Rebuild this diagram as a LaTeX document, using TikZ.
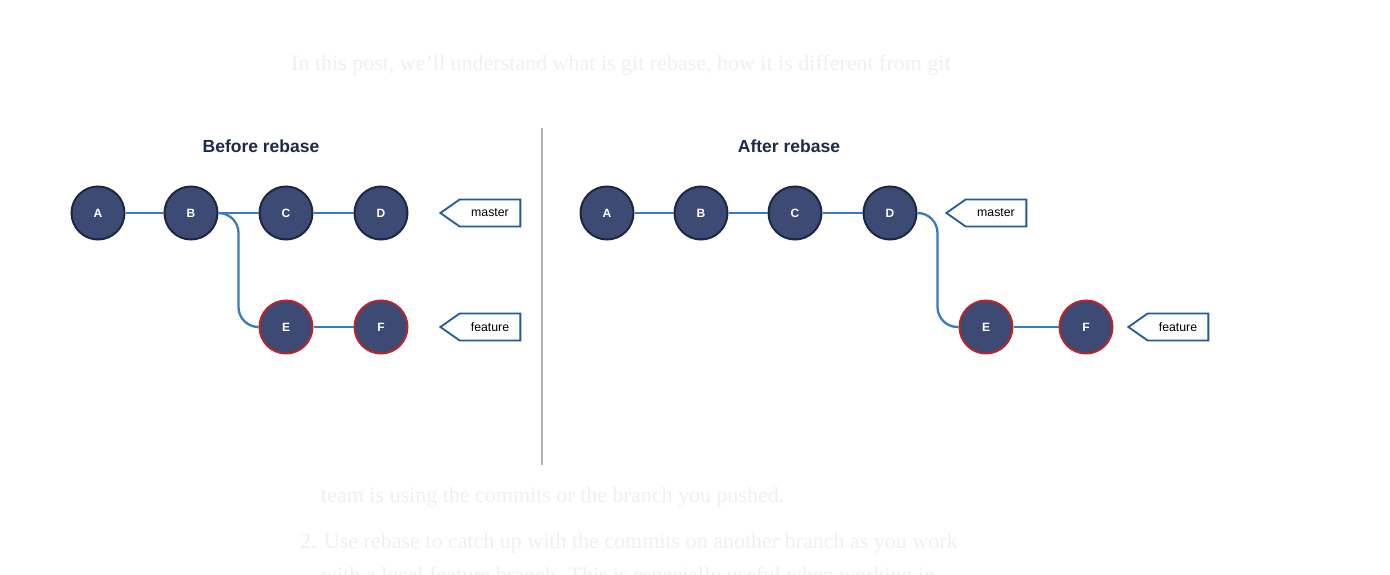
\documentclass[tikz,border=0pt]{standalone}
\usepackage{fontspec}
\setmainfont{Liberation Sans}
\newfontfamily\postfont{Liberation Serif}
\usepackage{tikz}
\usetikzlibrary{shapes.symbols}
\definecolor{commitfill}{HTML}{3D4A74}
\definecolor{commitline}{HTML}{1A2745}
\definecolor{movedline}{HTML}{B8262B}
\definecolor{linkblue}{HTML}{3A7BBF}
\definecolor{tagline}{HTML}{1F5C9C}
\definecolor{titlecol}{HTML}{1B2A48}

\begin{document}
\begin{tikzpicture}[x=1pt, y=-1pt,
    commit/.style={circle, draw=commitline, fill=commitfill, line width=2pt, minimum size=53pt, inner sep=0pt, text=white, font=\fontsize{12}{14}\selectfont\bfseries},
    moved/.style={commit, draw=movedline},
    branchtag/.style={shape=signal, signal to=west, signal pointer angle=70, draw=tagline, line width=1.8pt, fill=white, minimum width=80pt, minimum height=27pt, inner sep=0pt, font=\fontsize{12.3}{14}\selectfont},
    link/.style={draw=linkblue, line width=2.3pt},
    title/.style={text=titlecol, font=\fontsize{17.5}{20}\selectfont\bfseries},
    faded/.style={text=black!6, font=\postfont\fontsize{22}{26}\selectfont, anchor=base west, inner sep=0pt}]
  \fill[white] (0,0) rectangle (1390,575);
  \useasboundingbox (0,0) rectangle (1390,575);
  % the post behind the picture
  \node[faded] (intro) at (291,71) {In this post, we’ll understand what is git rebase, how it is different from git};
  \node[faded] (pushed) at (321,502) {team is using the commits or the branch you pushed.};
  \node[faded] (pointtwo) at (300,548) {2. Use rebase to catch up with the commits on another branch as you work};
  \node[faded] (pointtwob) at (321,582) {with a local feature branch. This is especially useful when working in};
  % before
  \node[title] (beforetitle) at (261,146) {Before rebase};
  \foreach \name/\x in {A/98, B/191, C/286, D/381}
    \node[commit] (l\name) at (\x,213) {\name};
  \node[moved] (lE) at (286,327) {E};
  \node[moved] (lF) at (381,327) {F};
  \draw[link] (lA) -- (lB) (lB) -- (lC) (lC) -- (lD) (lE) -- (lF);
  \draw[link, rounded corners=20pt] (lB.east) -- ++(20,0) |- (lE.west);
  \node[branchtag] (lmaster) at (490,213) {master\hspace{8pt}};
  \node[branchtag] (lfeature) at (490,327) {feature\hspace{8pt}};
  % divider
  \draw[black!30, line width=2pt] (542,128) -- (542,465);
  % after
  \node[title] (aftertitle) at (789,146) {After rebase};
  \foreach \name/\x in {A/607, B/701, C/795, D/890}
    \node[commit] (r\name) at (\x,213) {\name};
  \node[moved] (rE) at (986,327) {E};
  \node[moved] (rF) at (1086,327) {F};
  \draw[link] (rA) -- (rB) (rB) -- (rC) (rC) -- (rD) (rE) -- (rF);
  \draw[link, rounded corners=20pt] (rD.east) -- ++(20,0) |- (rE.west);
  \node[branchtag] (rmaster) at (996,213) {master\hspace{8pt}};
  \node[branchtag] (rfeature) at (1178,327) {feature\hspace{8pt}};
\end{tikzpicture}
\end{document}
